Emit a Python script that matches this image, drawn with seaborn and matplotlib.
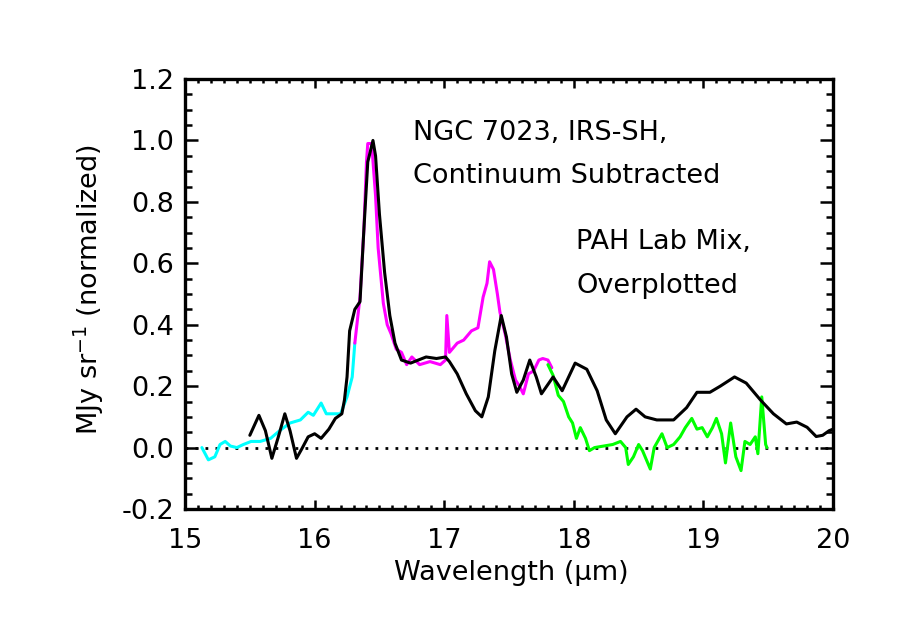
import numpy as np
import matplotlib
matplotlib.use("Agg")
import matplotlib.pyplot as plt
import seaborn as sns
from matplotlib.ticker import MultipleLocator, FormatStrFormatter

# -----------------------------
# DATA
# -----------------------------
cyan_wave = [15.13, 15.18, 15.23, 15.27, 15.31, 15.35, 15.40, 15.45, 15.51, 15.58,
             15.66, 15.73, 15.81, 15.89, 15.95, 15.99, 16.05, 16.09, 16.17, 16.20,
             16.25, 16.29, 16.31]
cyan_flux = [0.00, -0.04, -0.03, 0.01, 0.02, 0.005, 0.0, 0.01, 0.02, 0.02,
             0.03, 0.055, 0.08, 0.09, 0.115, 0.105, 0.145, 0.11, 0.11, 0.11,
             0.165, 0.23, 0.34]

magenta_wave = [16.31, 16.35, 16.38, 16.40, 16.41, 16.44, 16.47, 16.49, 16.51, 16.53,
                16.56, 16.59, 16.63, 16.67, 16.71, 16.75, 16.81, 16.89, 16.97, 17.01,
                17.02, 17.04, 17.10, 17.15, 17.21, 17.26, 17.30, 17.33, 17.35, 17.38,
                17.41, 17.43, 17.47, 17.51, 17.55, 17.58, 17.61, 17.65, 17.69, 17.73,
                17.76, 17.80, 17.83]
magenta_flux = [0.34, 0.49, 0.71, 0.93, 0.99, 0.99, 0.82, 0.65, 0.56, 0.47,
                0.40, 0.37, 0.32, 0.31, 0.27, 0.295, 0.27, 0.28, 0.27, 0.285,
                0.43, 0.31, 0.34, 0.35, 0.38, 0.39, 0.49, 0.535, 0.605, 0.58,
                0.50, 0.44, 0.37, 0.285, 0.22, 0.20, 0.175, 0.24, 0.25, 0.285,
                0.29, 0.285, 0.26]

green_wave = [17.80, 17.84, 17.88, 17.92, 17.96, 17.99, 18.02, 18.05, 18.09, 18.12,
              18.16, 18.23, 18.30, 18.36, 18.40, 18.42, 18.46, 18.50, 18.53, 18.59,
              18.62, 18.68, 18.72, 18.77, 18.82, 18.86, 18.91, 18.95, 18.99, 19.03,
              19.07, 19.10, 19.14, 19.17, 19.21, 19.25, 19.29, 19.32, 19.36, 19.40,
              19.42, 19.45, 19.48, 19.49]
green_flux = [0.27, 0.235, 0.17, 0.15, 0.10, 0.08, 0.03, 0.065, 0.03, -0.01,
              0.0, 0.005, 0.01, 0.02, 0.0, -0.055, -0.03, 0.01, -0.01, -0.07,
              0.0, 0.045, 0.0, 0.01, 0.035, 0.065, 0.095, 0.06, 0.065, 0.035,
              0.065, 0.095, 0.045, -0.05, 0.08, -0.03, -0.075, 0.02, 0.01, 0.035,
              -0.02, 0.165, 0.01, 0.0]

lab_wave = [15.50, 15.57, 15.62, 15.67, 15.72, 15.77, 15.81, 15.86, 15.90, 15.95,
            16.00, 16.05, 16.11, 16.16, 16.21, 16.23, 16.25, 16.27, 16.31, 16.35,
            16.38, 16.41, 16.45, 16.47, 16.50, 16.54, 16.58, 16.62, 16.67, 16.74,
            16.80, 16.86, 16.94, 17.01, 17.04, 17.10, 17.17, 17.24, 17.29, 17.34,
            17.39, 17.44, 17.48, 17.52, 17.56, 17.61, 17.66, 17.71, 17.75, 17.84,
            17.91, 18.01, 18.10, 18.18, 18.25, 18.32, 18.41, 18.48, 18.55, 18.64,
            18.77, 18.87, 18.95, 19.05, 19.13, 19.24, 19.33, 19.44, 19.54, 19.64,
            19.72, 19.80, 19.87, 19.92, 19.97, 20.00]
lab_flux = [0.04, 0.105, 0.055, -0.035, 0.035, 0.11, 0.055, -0.035, -0.005, 0.035,
            0.045, 0.03, 0.06, 0.095, 0.11, 0.155, 0.23, 0.38, 0.45, 0.475,
            0.71, 0.93, 1.0, 0.95, 0.76, 0.57, 0.43, 0.34, 0.285, 0.275,
            0.285, 0.295, 0.29, 0.295, 0.28, 0.24, 0.175, 0.12, 0.10, 0.165,
            0.315, 0.43, 0.36, 0.24, 0.18, 0.22, 0.285, 0.23, 0.175, 0.23,
            0.185, 0.275, 0.255, 0.185, 0.09, 0.045, 0.10, 0.125, 0.10, 0.09,
            0.09, 0.13, 0.18, 0.18, 0.20, 0.23, 0.21, 0.155, 0.11, 0.077,
            0.083, 0.066, 0.036, 0.04, 0.055, 0.06]

zero_wave = [15.0, 20.0]
zero_flux = [0.0, 0.0]

# -----------------------------
# STYLE
# -----------------------------
sns.set_style("ticks")
plt.rcParams["font.family"] = ["DejaVu Sans"]
plt.rcParams["axes.unicode_minus"] = False
plt.rcParams["text.color"] = "black"
plt.rcParams["axes.labelcolor"] = "black"
plt.rcParams["xtick.color"] = "black"
plt.rcParams["ytick.color"] = "black"

FS = 19.5

fig = plt.figure(figsize=(9, 6.43), dpi=100)
ax = fig.add_axes([0.2056, 0.2084, 0.72, 0.6687])

# -----------------------------
# PLOT
# -----------------------------
sns.lineplot(x=zero_wave, y=zero_flux, ax=ax, color="black", lw=2,
             linestyle=(0, (1, 2.6)), sort=False)
sns.lineplot(x=cyan_wave, y=cyan_flux, ax=ax, color="#00ffff", lw=2.2, sort=False)
sns.lineplot(x=magenta_wave, y=magenta_flux, ax=ax, color="#ff00ff", lw=2.2, sort=False)
sns.lineplot(x=green_wave, y=green_flux, ax=ax, color="#00ff00", lw=2.2, sort=False)
sns.lineplot(x=lab_wave, y=lab_flux, ax=ax, color="black", lw=2.2, sort=False)

ax.set_xlim(15, 20)
ax.set_ylim(-0.2, 1.2)
ax.xaxis.set_major_locator(MultipleLocator(1))
ax.xaxis.set_minor_locator(MultipleLocator(0.1))
ax.yaxis.set_major_locator(MultipleLocator(0.2))
ax.yaxis.set_minor_locator(MultipleLocator(0.05))
ax.yaxis.set_major_formatter(FormatStrFormatter("%.1f"))

for side in ax.spines.values():
    side.set_linewidth(2.4)
    side.set_visible(True)
    side.set_color("black")

ax.tick_params(axis="both", which="both", direction="in", top=True, right=True,
               width=1.8, labelsize=FS, colors="black")
ax.tick_params(axis="x", which="major", length=6.5, pad=14)
ax.tick_params(axis="x", which="minor", length=3)
ax.tick_params(axis="y", which="major", length=9.5, pad=8)
ax.tick_params(axis="y", which="minor", length=5)

ax.set_xlabel("Wavelength (µm)", fontsize=FS)
ax.set_ylabel("MJy sr$^{-1}$ (normalized)", fontsize=FS)
ax.xaxis.set_label_coords(0.503, -0.118)
ax.yaxis.set_label_coords(-0.122, 0.51)

ax.text(16.76, 1.003, "NGC 7023, IRS-SH,", fontsize=FS, va="baseline", ha="left")
ax.text(16.76, 0.863, "Continuum Subtracted", fontsize=FS, va="baseline", ha="left")
ax.text(18.02, 0.647, "PAH Lab Mix,", fontsize=FS, va="baseline", ha="left")
ax.text(18.02, 0.503, "Overplotted", fontsize=FS, va="baseline", ha="left")

fig.savefig("out.png", dpi=100)
